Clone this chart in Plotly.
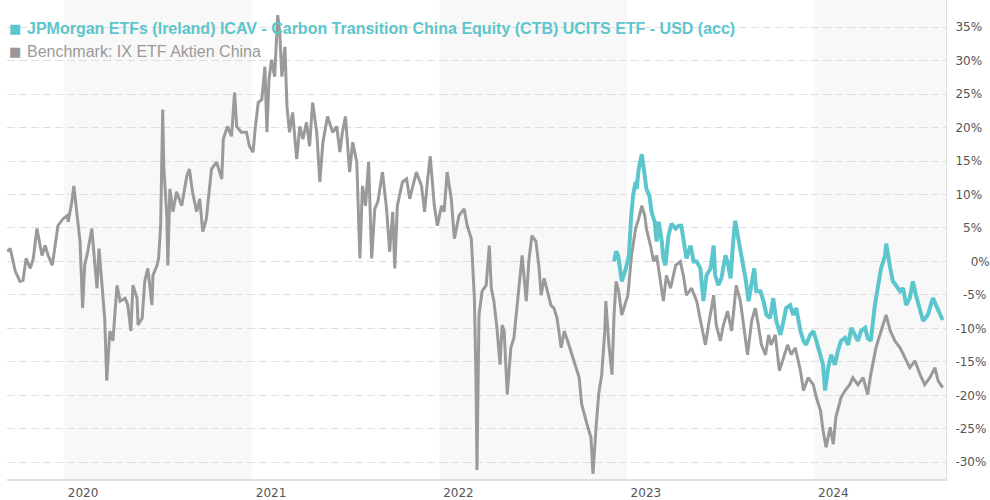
import plotly.graph_objects as go

# ---------------- data ----------------
bench_dates = [
    "2019-09-12", "2019-09-18", "2019-09-28", "2019-10-07", "2019-10-13", "2019-10-19", "2019-10-27", "2019-11-02",
    "2019-11-09", "2019-11-19", "2019-11-25", "2019-12-01", "2019-12-09", "2019-12-14", "2019-12-20", "2019-12-30",
    "2020-01-07", "2020-01-09", "2020-01-16", "2020-01-20", "2020-01-26", "2020-02-01", "2020-02-06", "2020-02-10",
    "2020-02-16", "2020-02-24", "2020-03-01", "2020-03-05", "2020-03-09", "2020-03-14", "2020-03-20", "2020-03-24",
    "2020-03-30", "2020-04-05", "2020-04-13", "2020-04-19", "2020-04-29", "2020-05-04", "2020-05-10", "2020-05-14",
    "2020-05-22", "2020-05-24", "2020-06-01", "2020-06-06", "2020-06-12", "2020-06-20", "2020-06-22", "2020-06-30",
    "2020-07-03", "2020-07-07", "2020-07-11", "2020-07-13", "2020-07-19", "2020-07-21", "2020-07-25", "2020-07-31",
    "2020-08-07", "2020-08-17", "2020-08-27", "2020-09-01", "2020-09-07", "2020-09-15", "2020-09-21", "2020-09-27",
    "2020-10-04", "2020-10-14", "2020-10-24", "2020-11-03", "2020-11-06", "2020-11-14", "2020-11-22", "2020-11-28",
    "2020-12-02", "2020-12-11", "2020-12-21", "2020-12-27",
    "2021-01-03", "2021-01-07", "2021-01-13", "2021-01-20", "2021-01-26", "2021-01-30", "2021-02-03", "2021-02-08",
    "2021-02-14", "2021-02-20", "2021-02-24", "2021-02-28", "2021-03-06", "2021-03-10", "2021-03-15", "2021-03-21",
    "2021-03-29", "2021-04-04", "2021-04-10", "2021-04-17", "2021-04-23", "2021-04-29", "2021-05-07", "2021-05-13",
    "2021-05-19", "2021-05-28", "2021-06-07", "2021-06-15", "2021-06-21", "2021-06-26", "2021-07-02", "2021-07-10",
    "2021-07-16", "2021-07-24", "2021-07-30", "2021-08-04", "2021-08-10", "2021-08-16", "2021-08-22", "2021-08-28",
    "2021-09-03", "2021-09-12", "2021-09-20", "2021-09-26", "2021-10-02", "2021-10-06", "2021-10-11", "2021-10-21",
    "2021-10-29", "2021-11-04", "2021-11-10", "2021-11-17", "2021-11-27", "2021-12-03", "2021-12-09", "2021-12-14",
    "2021-12-22", "2021-12-28",
    "2022-01-05", "2022-01-10", "2022-01-16", "2022-01-24", "2022-01-30", "2022-02-08", "2022-02-18", "2022-02-24",
    "2022-03-04", "2022-03-10", "2022-03-13", "2022-03-15", "2022-03-19", "2022-03-25", "2022-04-02", "2022-04-08",
    "2022-04-12", "2022-04-17", "2022-04-23", "2022-04-29", "2022-05-03", "2022-05-07", "2022-05-13", "2022-05-20",
    "2022-05-26", "2022-06-01", "2022-06-11", "2022-06-19", "2022-06-24", "2022-06-30", "2022-07-08", "2022-07-14",
    "2022-07-18", "2022-07-24", "2022-07-30", "2022-08-06", "2022-08-12", "2022-08-18", "2022-08-26", "2022-09-01",
    "2022-09-10", "2022-09-20", "2022-09-30", "2022-10-05", "2022-10-13", "2022-10-17", "2022-10-23", "2022-10-27",
    "2022-11-02", "2022-11-07", "2022-11-13", "2022-11-19", "2022-11-21", "2022-11-27", "2022-12-03", "2022-12-07",
    "2022-12-11", "2022-12-16", "2022-12-22", "2022-12-30",
    "2023-01-03", "2023-01-10", "2023-01-18", "2023-01-24", "2023-01-30", "2023-02-05", "2023-02-08", "2023-02-16",
    "2023-02-22", "2023-02-28", "2023-03-08", "2023-03-13", "2023-03-19", "2023-03-27", "2023-04-06", "2023-04-15",
    "2023-04-21", "2023-04-27", "2023-05-07", "2023-05-17", "2023-05-26", "2023-06-03", "2023-06-09", "2023-06-19",
    "2023-06-24", "2023-07-02", "2023-07-08", "2023-07-16", "2023-07-24", "2023-08-02", "2023-08-10", "2023-08-16",
    "2023-08-24", "2023-09-01", "2023-09-08", "2023-09-14", "2023-09-20", "2023-09-28", "2023-10-04", "2023-10-09",
    "2023-10-17", "2023-10-25", "2023-11-02", "2023-11-10", "2023-11-17", "2023-11-25", "2023-12-05", "2023-12-11",
    "2023-12-20", "2023-12-30",
    "2024-01-05", "2024-01-13", "2024-01-18", "2024-01-24", "2024-02-01", "2024-02-07", "2024-02-12", "2024-02-22",
    "2024-03-01", "2024-03-10", "2024-03-16", "2024-03-26", "2024-04-05", "2024-04-14", "2024-04-20", "2024-04-30",
    "2024-05-10", "2024-05-16", "2024-05-20", "2024-05-28", "2024-06-06", "2024-06-16", "2024-06-26", "2024-07-05",
    "2024-07-15", "2024-07-25", "2024-08-03", "2024-08-13", "2024-08-23", "2024-08-29", "2024-09-07",
]
bench_values = [
    1.48, 1.93, -1.48, -2.97, -2.82, 0.45, -1.04, 0.45,
    4.90, 0.89, 2.37, 0.89, -0.59, 2.37, 5.34, 6.38,
    6.83, 5.93, 8.90, 11.28, 7.42, 2.97, -6.97, -0.59,
    1.48, 4.90, -0.59, -4.01, 1.93, -2.52, -8.46, -17.80,
    -10.39, -11.87, -3.56, -5.93, -5.49, -6.53, -10.39, -3.56,
    -5.49, -9.50, -8.46, -2.97, -1.04, -6.53, -2.08, -0.59,
    0.45, 5.34, 22.70, 14.24, 6.83, -0.59, 10.83, 7.42,
    10.39, 8.31, 12.76, 13.80, 10.39, 7.42, 9.35, 4.45,
    6.38, 13.80, 14.84, 12.31, 18.25, 20.18, 18.69, 25.22,
    20.18, 19.29, 19.29, 17.21,
    16.32, 19.73, 23.74, 24.18, 29.08, 19.29, 27.15, 30.12,
    27.60, 36.80, 34.13, 27.60, 32.05, 23.15, 19.29, 22.26,
    15.28, 20.18, 18.25, 20.77, 17.21, 23.74, 19.29, 11.87,
    17.80, 21.66, 19.29, 20.18, 16.32, 19.29, 21.66, 13.35,
    17.80, 14.84, 0.45, 11.28, 8.31, 14.84, 0.45, 7.86,
    8.90, 13.35, 7.86, 1.48, 7.42, -1.04, 8.31, 11.87,
    12.31, 9.35, 11.28, 13.35, 11.28, 7.42, 12.31, 15.73,
    8.31, 5.34,
    8.31, 7.42, 13.35, 9.35, 3.41, 6.83, 7.86, 5.34,
    3.41, -5.49, -16.91, -31.16, -8.01, -4.45, -3.56, 2.37,
    -4.01, -5.93, -9.94, -15.43, -9.50, -10.39, -19.88, -12.91,
    -11.42, -6.53, 0.89, -5.93, 0.00, 3.86, 2.97, -1.04,
    -5.04, -2.52, -4.45, -6.53, -6.97, -8.46, -12.91, -10.39,
    -12.46, -14.84, -17.36, -21.37, -23.74, -24.78, -26.26, -31.75,
    -24.78, -19.88, -16.91, -10.39, -5.93, -12.46, -16.91, -8.01,
    -2.97, -4.45, -8.01, -5.93,
    -5.04, 0.89, 4.90, 6.38, 8.31, 6.83, 4.90, 2.37,
    0.00, 0.89, -2.97, -5.93, -2.08, -4.01, -0.59, 0.00,
    -2.08, -5.04, -4.01, -5.93, -9.50, -12.46, -9.50, -5.04,
    -9.50, -11.87, -9.50, -7.42, -10.39, -3.56, -5.93, -9.50,
    -13.95, -8.90, -6.97, -9.50, -12.46, -13.95, -10.98, -12.46,
    -10.98, -16.32, -14.39, -12.46, -13.95, -12.91, -16.32, -19.29,
    -17.36, -18.40,
    -20.33, -22.26, -25.22, -27.75, -24.78, -27.30, -23.29, -20.33,
    -19.29, -18.40, -17.36, -18.40, -17.36, -19.88, -16.91, -12.91,
    -10.39, -8.90, -8.01, -10.39, -11.87, -12.91, -14.39, -15.88,
    -14.84, -16.91, -18.40, -17.36, -15.88, -17.80, -18.84,
]

fund_dates = [
    "2022-12-07", "2022-12-11", "2022-12-15", "2022-12-20", "2022-12-22", "2022-12-30",
    "2023-01-05", "2023-01-09", "2023-01-13", "2023-01-18", "2023-01-20", "2023-01-24", "2023-01-30", "2023-02-03",
    "2023-02-08", "2023-02-14", "2023-02-18", "2023-02-24", "2023-02-28", "2023-03-04", "2023-03-10", "2023-03-13",
    "2023-03-17", "2023-03-23", "2023-03-29", "2023-04-06", "2023-04-12", "2023-04-17", "2023-04-23", "2023-04-27",
    "2023-05-05", "2023-05-11", "2023-05-17", "2023-05-24", "2023-05-30", "2023-06-05", "2023-06-13", "2023-06-19",
    "2023-06-22", "2023-06-28", "2023-07-04", "2023-07-12", "2023-07-16", "2023-07-22", "2023-07-27", "2023-07-31",
    "2023-08-06", "2023-08-12", "2023-08-20", "2023-08-26", "2023-09-01", "2023-09-06", "2023-09-10", "2023-09-18",
    "2023-09-24", "2023-09-30", "2023-10-07", "2023-10-13", "2023-10-19", "2023-10-27", "2023-11-02", "2023-11-07",
    "2023-11-15", "2023-11-21", "2023-11-27", "2023-12-05", "2023-12-11", "2023-12-16", "2023-12-24", "2023-12-30",
    "2024-01-05", "2024-01-13", "2024-01-18", "2024-01-22", "2024-01-28", "2024-02-03", "2024-02-10", "2024-02-16",
    "2024-02-22", "2024-03-01", "2024-03-07", "2024-03-13", "2024-03-21", "2024-03-26", "2024-04-01", "2024-04-09",
    "2024-04-14", "2024-04-20", "2024-04-28", "2024-05-04", "2024-05-10", "2024-05-18", "2024-05-20", "2024-05-28",
    "2024-06-02", "2024-06-08", "2024-06-16", "2024-06-22", "2024-06-28", "2024-07-05", "2024-07-11", "2024-07-17",
    "2024-07-25", "2024-07-31", "2024-08-09", "2024-08-19", "2024-08-25", "2024-09-02", "2024-09-07",
]
fund_values = [
    0.00, 1.48, 0.89, -1.48, -2.97, -1.04,
    0.89, 6.38, 9.79, 11.87, 10.83, 13.80, 16.02, 13.80,
    10.83, 9.79, 7.42, 5.93, 2.97, 5.93, 2.97, 0.45,
    -0.59, 3.86, 5.64, 4.90, 5.34, 5.34, 2.37, 0.45,
    2.37, 0.00, 0.00, -1.04, -5.93, -2.08, -1.04, 2.37,
    -2.08, -3.56, -2.52, 0.89, 0.00, -2.52, 2.97, 6.08,
    3.41, 0.89, -2.52, -5.93, -2.97, -1.04, -4.45, -4.45,
    -5.93, -8.01, -8.46, -5.49, -8.90, -10.98, -8.90, -6.97,
    -6.53, -8.01, -6.97, -10.39, -11.87, -12.46, -10.98, -10.39,
    -11.87, -14.39, -15.43, -19.29, -15.88, -13.95, -15.43, -13.35,
    -11.87, -11.42, -12.46, -9.94, -10.98, -11.87, -10.39, -9.94,
    -11.42, -11.87, -6.53, -3.56, -1.04, 0.89, 2.67, -1.04,
    -2.97, -3.56, -4.45, -4.01, -6.53, -5.49, -2.97, -5.04,
    -6.97, -8.90, -8.01, -5.49, -6.53, -8.01, -8.75,
]

fund_name = "JPMorgan ETFs (Ireland) ICAV - Carbon Transition China Equity (CTB) UCITS ETF - USD (acc)"
bench_name = "Benchmark: IX ETF Aktien China"

year_ticks = ["2020-01-01", "2021-01-01", "2022-01-01", "2023-01-01", "2024-01-01"]
year_labels = ["2020", "2021", "2022", "2023", "2024"]
shaded_years = [("2020-01-01", "2021-01-01"), ("2022-01-01", "2023-01-01"), ("2024-01-01", "2025-01-01")]

pct_ticks = [35, 30, 25, 20, 15, 10, 5, 0, -5, -10, -15, -20, -25, -30]
pct_labels = ["35%", "30%", "25%", "20%", "15%", "10%", "\u20075%", "\u2007\u20070%", "\u2007-5%",
              "-10%", "-15%", "-20%", "-25%", "-30%"]

TEAL = "#5cc6ce"
GREY = "#9a9a9a"

if len(bench_dates) != len(bench_values) or len(fund_dates) != len(fund_values):
    raise SystemExit(f"length mismatch {len(bench_dates)} {len(bench_values)} {len(fund_dates)} {len(fund_values)}")

# ---------------- figure ----------------
fig = go.Figure()
fig.add_trace(go.Scatter(x=bench_dates, y=bench_values, mode="lines", name=bench_name,
                         line=dict(color=GREY, width=3), showlegend=False, hoverinfo="skip"))
fig.add_trace(go.Scatter(x=fund_dates, y=fund_values, mode="lines", name=fund_name,
                         line=dict(color=TEAL, width=4), showlegend=False, hoverinfo="skip"))

for x0, x1 in shaded_years:
    fig.add_shape(type="rect", xref="x", yref="paper", x0=x0, x1=x1, y0=0, y1=1,
                  fillcolor="#f8f8f8", line=dict(width=0), layer="below")

legend_font = "Liberation Sans, Arial, sans-serif"
square_font = "DejaVu Sans"
fig.add_annotation(text="\u25a0", xref="paper", yref="paper", x=0.002, y=0.940, xanchor="left", yanchor="middle",
                   showarrow=False, borderpad=0, borderwidth=0, font=dict(family=square_font, size=13, color=TEAL))
fig.add_annotation(text="<b>" + fund_name + "</b>", xref="paper", yref="paper", x=0.0213, y=0.940,
                   xanchor="left", yanchor="middle", showarrow=False, borderpad=0, borderwidth=0,
                   font=dict(family=legend_font, size=16, color=TEAL))
fig.add_annotation(text="\u25a0", xref="paper", yref="paper", x=0.002, y=0.892, xanchor="left", yanchor="middle",
                   showarrow=False, borderpad=0, borderwidth=0, font=dict(family=square_font, size=13, color=GREY))
fig.add_annotation(text=bench_name, xref="paper", yref="paper", x=0.0213, y=0.892,
                   xanchor="left", yanchor="middle", showarrow=False, borderpad=0, borderwidth=0,
                   font=dict(family=legend_font, size=16, color=GREY))

fig.update_layout(
    width=990, height=500,
    margin=dict(l=7, r=42, t=0, b=18),
    paper_bgcolor="white", plot_bgcolor="white",
    showlegend=False,
    xaxis=dict(
        type="date",
        range=["2019-09-11 18:00", "2024-09-13 12:00"],
        tickvals=year_ticks, ticktext=year_labels,
        ticks="", showgrid=False, zeroline=False,
        showline=True, linecolor="#dedede", linewidth=2,
        tickfont=dict(family="DejaVu Sans", size=12, color="#555555"),
        ticklabelshift=19, ticklabelstandoff=2,
    ),
    yaxis=dict(
        side="right",
        range=[-32.5, 39.05],
        tickvals=pct_ticks, ticktext=pct_labels,
        ticks="", ticklabelstandoff=6,
        showgrid=True, gridcolor="#dedede", gridwidth=1, griddash="8px,4px",
        zeroline=False,
        showline=True, linecolor="#dedede", linewidth=1,
        tickfont=dict(family="DejaVu Sans", size=12, color="#555555"),
    ),
)

fig.write_html("out.html")
